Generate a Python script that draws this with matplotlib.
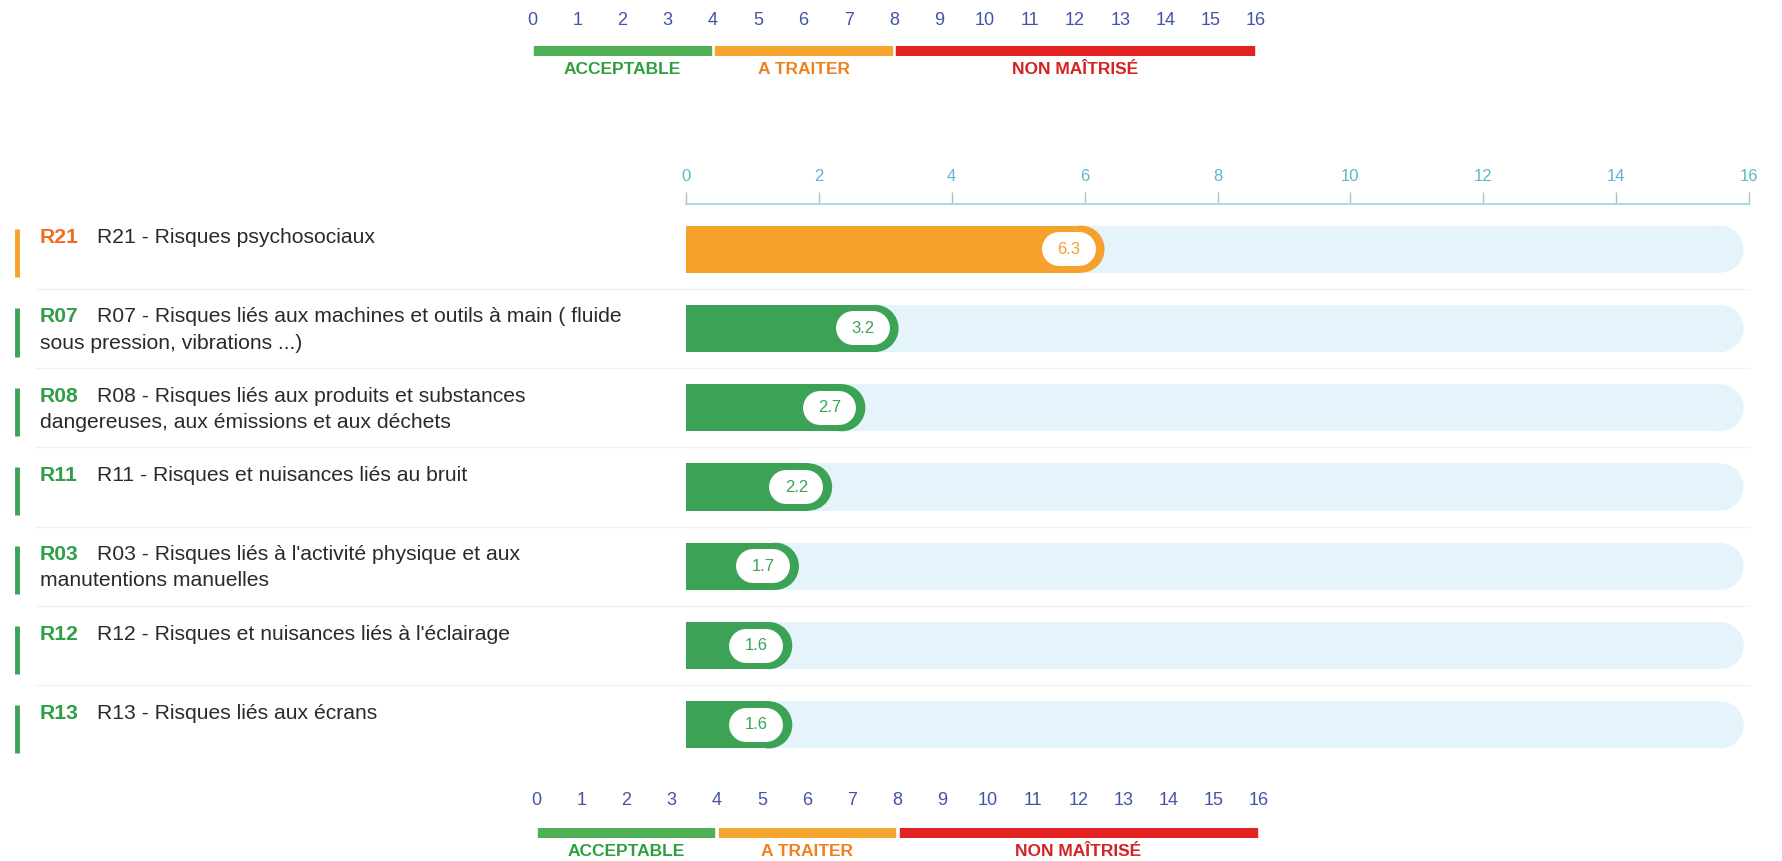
import matplotlib
matplotlib.use('Agg')
import matplotlib.pyplot as plt
from matplotlib.patches import Ellipse, Rectangle
from matplotlib import font_manager

# data
codes = ['R21', 'R07', 'R08', 'R11', 'R03', 'R12', 'R13']
labels = [
    "R21 - Risques psychosociaux",
    "R07 - Risques liés aux machines et outils à main ( fluide\nsous pression, vibrations ...)",
    "R08 - Risques liés aux produits et substances\ndangereuses, aux émissions et aux déchets",
    "R11 - Risques et nuisances liés au bruit",
    "R03 - Risques liés à l'activité physique et aux\nmanutentions manuelles",
    "R12 - Risques et nuisances liés à l'éclairage",
    "R13 - Risques liés aux écrans",
]
values = [6.3, 3.2, 2.7, 2.2, 1.7, 1.6, 1.6]

levels = [0, 4, 8, 16]
level_names = ['ACCEPTABLE', 'A TRAITER', 'NON MAÎTRISÉ']
level_colors = ['#4fb153', '#f6a530', '#e32322']
level_text_colors = ['#2e9f3e', '#f0801e', '#d42222']
bar_colors = ['#3ca256', '#f5a12b', '#e32322']
code_colors = ['#2f9f45', '#f06c22', '#d42222']
max_score = 16

names = [f.name for f in font_manager.fontManager.ttflist]
FONT = 'Liberation Sans Narrow' if 'Liberation Sans Narrow' in names else 'Liberation Sans'
plt.rcParams['font.family'] = [FONT, 'DejaVu Sans']

W, H = 1783, 861
fig = plt.figure(figsize=(W / 100, H / 100), dpi=100)

def level_of(v):
    for k in range(len(levels) - 1):
        if v < levels[k + 1]:
            return k
    return len(levels) - 2

# ---- main chart ----
x0, x1 = 686, 1749
top_px, bot_px = 204, 765
pitch = 79.0
ax = fig.add_axes([x0 / W, 1 - bot_px / H, (x1 - x0) / W, (bot_px - top_px) / H])
ax.set_xlim(0, max_score)
ax.set_ylim(len(values) - 1 + (bot_px - 725) / pitch, -(249 - top_px) / pitch)

bar_h = 47 / pitch
unit = (x1 - x0) / max_score
rx = (bar_h * pitch / 2) / unit

for i, v in enumerate(values):
    k = level_of(v)
    col = bar_colors[k]
    # track
    ax.barh(i, max_score - 0.08 - rx, height=bar_h, color='#e5f4fb', lw=0, zorder=1)
    ax.add_patch(Ellipse((max_score - 0.08 - rx, i), 2 * rx, bar_h,
                         facecolor='#e5f4fb', lw=0, zorder=1))
    # value bar
    ax.barh(i, v - rx, height=bar_h, color=col, lw=0, zorder=2)
    ax.add_patch(Ellipse((v - rx, i), 2 * rx, bar_h, facecolor=col, lw=0, zorder=2))
    # value pill
    ax.plot([v - 0.69, v - 0.39], [i, i], color='white', lw=24.5,
            solid_capstyle='round', zorder=3)
    ax.text(v - 0.54, i, f'{v:.1f}', color=col, fontsize=12, ha='center',
            va='center', zorder=4)

# row separators
for i in range(len(values) - 1):
    ax.axhline(i + 0.5, xmin=(35 - x0) / (x1 - x0), xmax=1, color='#f2f2f2',
               lw=1, clip_on=False, zorder=0)

# left labels
tr = ax.get_yaxis_transform()
def fx(px):
    return (px - x0) / (x1 - x0)

for i, (c, lab, v) in enumerate(zip(codes, labels, values)):
    k = level_of(v)
    ax.plot([fx(17), fx(17)], [i - 20 / pitch, i + 28 / pitch],
            transform=tr, color=bar_colors[k], lw=3.5, clip_on=False,
            solid_capstyle='butt')
    lines = lab.split('\n')
    y = i - 6 / pitch
    ax.text(fx(40), y, c, transform=tr, color=code_colors[k], fontsize=15.2,
            va='baseline', ha='left', fontweight='bold')
    ax.text(fx(97), y, lines[0], transform=tr, color='#2a2a2a', fontsize=15.2,
            va='baseline', ha='left')
    for j, extra in enumerate(lines[1:]):
        ax.text(fx(40), y + (j + 1) * 26 / pitch, extra, transform=tr,
                color='#2a2a2a', fontsize=15.2, va='baseline', ha='left')

ax.set_xticks(range(0, max_score + 1, 2))
ax.xaxis.tick_top()
ax.tick_params(axis='x', which='both', length=8.5, width=1, color='#bbbbbb',
               labelcolor='#5bb8cb', labelsize=12, pad=6)
ax.set_yticks([])
for s in ['left', 'right', 'bottom']:
    ax.spines[s].set_visible(False)
ax.spines['top'].set_color('#a6dce6')
ax.spines['top'].set_linewidth(1.5)

# ---- legend scales ----
def scale_axes(left_px, right_px, bar_top_px, pad):
    sa = fig.add_axes([left_px / W, 1 - (bar_top_px + 10) / H,
                       (right_px - left_px) / W, 10 / H])
    sa.set_xlim(0, max_score)
    sa.set_ylim(0, 1)
    for k in range(len(level_names)):
        a, b = levels[k], levels[k + 1]
        sa.add_patch(Rectangle((a + 0.05, 0), b - a - 0.1, 1,
                               color=level_colors[k]))
        sa.text((a + b) / 2, -1.35, level_names[k], color=level_text_colors[k],
                fontsize=12.5, ha='center', va='center', fontweight='bold',
                transform=sa.transData)
    sa.set_xticks(range(0, max_score + 1))
    sa.xaxis.tick_top()
    sa.tick_params(axis='x', length=0, labelcolor='#4454a4', labelsize=13, pad=pad)
    sa.set_yticks([])
    for s in sa.spines.values():
        s.set_visible(False)
    sa.patch.set_alpha(0)
    return sa

scale_axes(532, 1256, 46, 12)
scale_axes(536, 1259, 828, 14)

fig.savefig('out.png', dpi=100)
